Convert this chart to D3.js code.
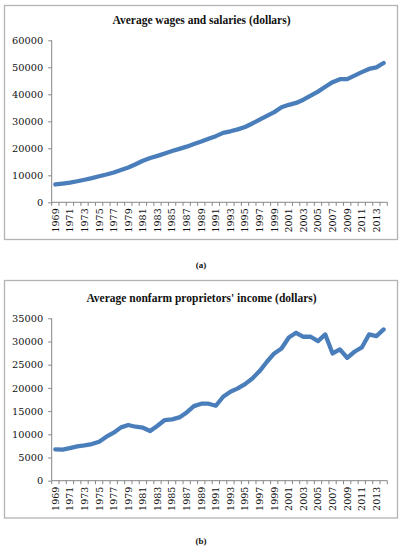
<!DOCTYPE html>
<html><head><meta charset="utf-8">
<script src="https://cdn.jsdelivr.net/npm/d3@7"></script>
<style>
html,body{margin:0;padding:0;background:#fff;}
svg{display:block;}
</style>
</head><body>
<svg id="c" width="403" height="550"></svg>
<script>
const years = d3.range(1969, 2015).map(String);
const tickYears = years.filter((y, i) => i % 2 === 0);
const wages = [6600, 6950, 7300, 7800, 8350, 8950, 9650, 10300, 11050, 11950,
  12900, 14100, 15400, 16400, 17200, 18100, 19000, 19800, 20600, 21600,
  22500, 23500, 24500, 25700, 26300, 27000, 27900, 29200, 30600, 32000,
  33400, 35200, 36100, 36800, 38000, 39500, 41000, 42800, 44500, 45600,
  45600, 46900, 48200, 49400, 50000, 51600];
const proprietors = [6750, 6680, 7040, 7400, 7610, 7900, 8400, 9480, 10340, 11490,
  12000, 11630, 11420, 10700, 11850, 13070, 13210, 13640, 14720, 16080,
  16590, 16590, 16150, 18090, 19170, 19890, 20820, 22040, 23620, 25630,
  27430, 28500, 30870, 31880, 31020, 31020, 30080, 31520, 27430, 28290,
  26490, 27790, 28720, 31520, 31160, 32600];
const wageTicks = [0, 10000, 20000, 30000, 40000, 50000, 60000];
const propTicks = [0, 5000, 10000, 15000, 20000, 25000, 30000, 35000];
const titles = ["Average wages and salaries (dollars)", "Average nonfarm proprietors' income (dollars)"];
const captions = ["(a)", "(b)"];

const svg = d3.select("#c");
const panels = [
  {top: 5.5, bottom: 239.5, y0: 202.3, y1: 40.3, max: 60000, ticks: wageTicks, data: wages, title: titles[0], titleY: 23.5, cap: captions[0], capY: 268},
  {top: 280.5, bottom: 518, y0: 480.7, y1: 318.3, max: 35000, ticks: propTicks, data: proprietors, title: titles[1], titleY: 302, cap: captions[1], capY: 544}
];

const x = d3.scaleBand().domain(years).range([51.7, 387.3]);
const tickFont = "'DejaVu Serif', serif";

panels.forEach(p => {
  const g = svg.append("g");
  g.append("rect").attr("x", 4.5).attr("y", p.top).attr("width", 393).attr("height", p.bottom - p.top)
    .attr("fill", "#fff").attr("stroke", "#b3b3b3").attr("stroke-width", 1.3);
  g.append("text").attr("x", 201.5).attr("y", p.titleY).attr("text-anchor", "middle")
    .attr("font-family", "'Liberation Serif', serif").attr("font-weight", "bold").attr("font-size", 11.5)
    .attr("fill", "#111").text(p.title);

  const y = d3.scaleLinear().domain([0, p.max]).range([p.y0, p.y1]);

  const ya = g.append("g").attr("transform", `translate(${x.range()[0]},0)`)
    .call(d3.axisLeft(y).tickValues(p.ticks).tickSize(3.5).tickPadding(5).tickFormat(d3.format("d")));
  ya.select(".domain").attr("stroke", "#868686").attr("d", `M0,${p.y0}V${p.y1}`);
  ya.selectAll(".tick line").attr("stroke", "#868686");
  ya.selectAll(".tick text").attr("font-family", tickFont).attr("font-size", 9.8).attr("fill", "#111");

  // x axis: ticks at category boundaries, labels every other year
  const xa = g.append("g").attr("transform", `translate(0,${p.y0})`);
  xa.append("line").attr("x1", x.range()[0]).attr("x2", x.range()[1]).attr("y1", 0).attr("y2", 0)
    .attr("stroke", "#868686");
  const bounds = years.map(d => x(d)).concat([x.range()[1]]);
  xa.selectAll("line.tk").data(bounds).join("line").attr("class", "tk")
    .attr("x1", d => d).attr("x2", d => d).attr("y1", 0).attr("y2", 3.5).attr("stroke", "#868686");
  xa.selectAll("text").data(tickYears).join("text")
    .attr("transform", d => `translate(${x(d) + x.bandwidth() / 2 + 3.4},6) rotate(-90)`)
    .attr("text-anchor", "end").attr("font-family", tickFont).attr("font-size", 9.5)
    .attr("fill", "#111").text(d => d);

  const line = d3.line().x((d, i) => x(years[i]) + x.bandwidth() / 2).y(d => y(d));
  g.append("path").datum(p.data).attr("d", line).attr("fill", "none")
    .attr("stroke", "#4a7ebb").attr("stroke-width", 4.3)
    .attr("stroke-linejoin", "round").attr("stroke-linecap", "round");

  svg.append("text").attr("x", 201).attr("y", p.capY).attr("text-anchor", "middle")
    .attr("font-family", "'Liberation Serif', serif").attr("font-weight", "bold").attr("font-size", 9)
    .attr("fill", "#111").text(p.cap);
});
</script>
</body></html>
